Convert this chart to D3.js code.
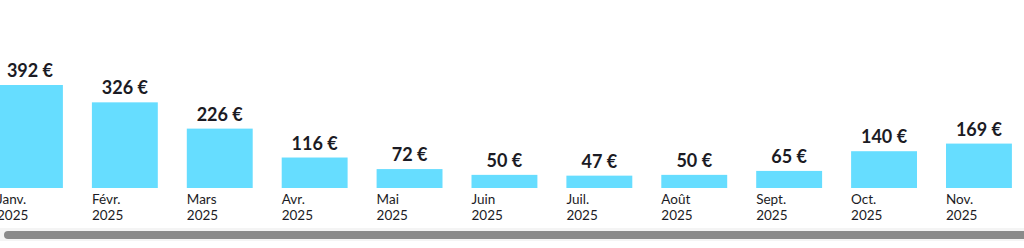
<!DOCTYPE html>
<html>
<head>
<meta charset="utf-8">
<script src="https://cdn.jsdelivr.net/npm/d3@7"></script>
<style>
  body { margin: 0; background: #fff; overflow: hidden; }
  text { font-family: Lato, "Open Sans", sans-serif; }
</style>
</head>
<body>
<div id="chart"></div>
<script>
// monthly totals
const months = ['Janv.', 'Févr.', 'Mars', 'Avr.', 'Mai', 'Juin', 'Juil.', 'Août', 'Sept.', 'Oct.', 'Nov.'];
const years = ['2025', '2025', '2025', '2025', '2025', '2025', '2025', '2025', '2025', '2025', '2025'];
const amounts = [392, 326, 226, 116, 72, 50, 47, 50, 65, 140, 169];

const W = 1024;
const H = 248;
const BASE = 188;
const STEP = 94.9;
const GAP = 29;

let svg = d3.select('#chart')
    .append('svg')
    .attr('width', W)
    .attr('height', H);

// band scale: first bar partly scrolled off to the left
let x = d3.scaleBand()
    .domain(months)
    .range([-3, -3 + STEP * months.length - GAP])
    .paddingInner(GAP / STEP)
    .paddingOuter(0)
    .align(0);

let y = d3.scaleLinear()
    .domain([0, 392])
    .range([BASE, 85]);

let bars = svg.append('g');

bars.selectAll('rect')
    .data(amounts)
    .enter()
    .append('rect')
    .attr('x', (d, i) => x(months[i]))
    .attr('y', (d) => y(d))
    .attr('width', x.bandwidth())
    .attr('height', (d) => BASE - y(d))
    .attr('fill', '#66ddff');

bars.selectAll('text.value')
    .data(amounts)
    .enter()
    .append('text')
    .attr('class', 'value')
    .attr('x', (d, i) => x(months[i]) + x.bandwidth() / 2)
    .attr('y', (d) => y(d) - 8)
    .attr('text-anchor', 'middle')
    .attr('font-size', 18)
    .attr('font-weight', 700)
    .attr('fill', '#1b1b24')
    .text((d) => d + ' €');

// axis labels: month on first line, year below, left aligned with the bar
let axis = svg.append('g')
    .attr('transform', 'translate(0,' + BASE + ')')
    .call(d3.axisBottom(x).tickSize(0).tickFormat(''));
axis.select('.domain').remove();

axis.selectAll('.tick').each(function (d, i) {
    let t = d3.select(this).append('text')
        .attr('x', -x.bandwidth() / 2)
        .attr('y', 16)
        .attr('text-anchor', 'start')
        .attr('font-size', 13.5)
        .attr('fill', '#1b1b24');
    t.append('tspan').attr('x', -x.bandwidth() / 2).text(d);
    t.append('tspan').attr('x', -x.bandwidth() / 2).attr('dy', 16).text(years[i]);
});

// horizontal scrollbar
svg.append('rect')
    .attr('x', 0)
    .attr('y', 228)
    .attr('width', W)
    .attr('height', 13)
    .attr('fill', '#f4f4f4');
svg.append('rect')
    .attr('x', 4)
    .attr('y', 231)
    .attr('width', W + 20)
    .attr('height', 8)
    .attr('rx', 4)
    .attr('fill', '#8a8a8a');
</script>
</body>
</html>
